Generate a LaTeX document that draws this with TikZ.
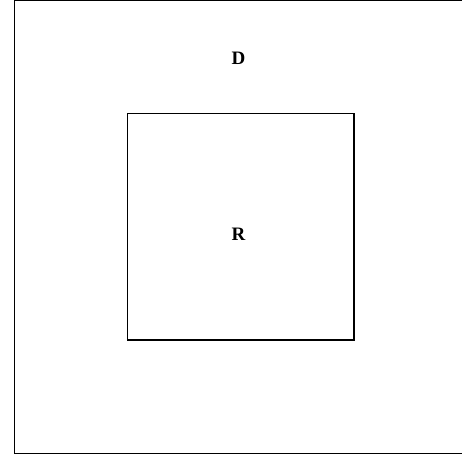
\documentclass[tikz,border=0pt]{standalone}
\usepackage{fontspec}
\setmainfont{Liberation Serif}
\usetikzlibrary{positioning}

\begin{document}
\begin{tikzpicture}[x=1pt, y=-1pt, line width=1.4pt, line join=miter,
    setlabel/.style={font=\fontsize{19}{22}\selectfont\bfseries, inner sep=0pt}]
    \useasboundingbox (0,0) rectangle (462,456);
    \clip (0,0) rectangle (462,456);

    \draw (14.5,0.5) rectangle (468,453.5);
    \draw (127.5,113.5) rectangle (354,340);

    \node[setlabel] (domain) at (238.5,58) {D};
    \node[setlabel] (region) at (238.5,234.5) {R};
\end{tikzpicture}
\end{document}
